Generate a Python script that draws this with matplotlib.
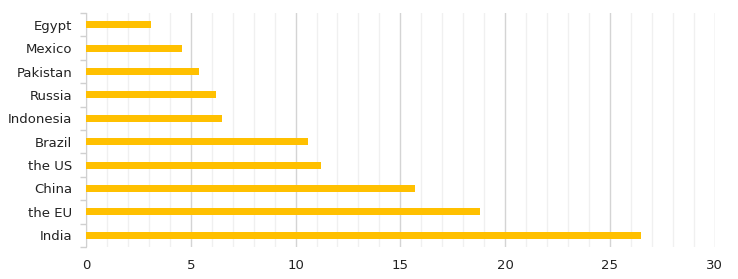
import numpy as np
import matplotlib.pyplot as plt
from matplotlib.ticker import MultipleLocator

# data, bottom to top
countries = ['India', 'the EU', 'China', 'the US', 'Brazil',
             'Indonesia', 'Russia', 'Pakistan', 'Mexico', 'Egypt']
values = [26.5, 18.8, 15.7, 11.2, 10.6, 6.5, 6.2, 5.4, 4.6, 3.1]

fig = plt.figure(figsize=(7.38, 2.79), dpi=100)
ax = fig.add_axes([0.1165, 0.115, 0.852, 0.838])

y = np.arange(len(countries))
ax.barh(y, values, height=0.3, color='#FFC000', zorder=3)

ax.set_xlim(0, 30)
ax.set_ylim(-0.5, len(countries) - 0.5)
ax.xaxis.set_major_locator(MultipleLocator(5))
ax.xaxis.set_minor_locator(MultipleLocator(1))
ax.grid(axis='x', which='major', color='#d4d4d4', lw=1, zorder=0)
ax.grid(axis='x', which='minor', color='#f0f0f0', lw=1, zorder=0)

ax.set_yticks(y)
ax.set_yticklabels(countries)
ax.set_yticks(np.arange(-0.5, len(countries), 1), minor=True)
ax.tick_params(axis='y', which='major', length=0, pad=9.8, labelsize=9.5, labelcolor='#222222')
ax.tick_params(axis='y', which='minor', length=4, color='#d0d0d0', width=1)
ax.tick_params(axis='x', which='both', length=0, pad=9, labelsize=9.5, labelcolor='#222222')

for s in ['top', 'right', 'bottom']:
    ax.spines[s].set_visible(False)
ax.spines['left'].set_color('#d0d0d0')

fig.savefig('out.png', dpi=100)
